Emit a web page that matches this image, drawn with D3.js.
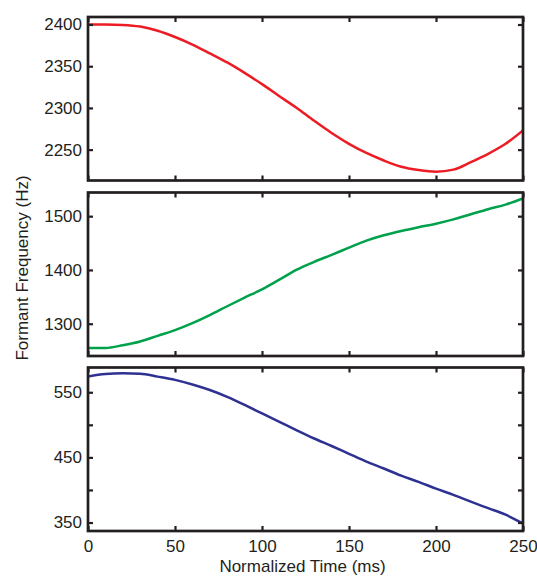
<!DOCTYPE html>
<html>
<head>
<meta charset="utf-8">
<script src="https://cdn.jsdelivr.net/npm/d3@7"></script>
<style>
  html, body { margin: 0; padding: 0; background: #fff; }
  svg text { font-family: "Liberation Sans", Arial, Helvetica, sans-serif; fill: #231f20; }
</style>
</head>
<body>
<svg id="chart" width="537" height="576"></svg>
<script>
// ---- data ----
const timeMs = [0, 10, 20, 30, 40, 50, 60, 70, 80, 90, 100, 110, 120, 130, 140, 150, 160, 170, 180, 190, 200, 210, 220, 230, 240, 250];
const f3Values = [2400, 2400, 2399.5, 2397.5, 2392.5, 2385, 2376, 2365.5, 2354.5, 2342, 2328.5, 2314, 2300, 2284.5, 2270, 2257, 2246, 2237, 2229.5, 2225.5, 2223.5, 2226, 2235, 2245, 2257, 2273];
const f2Values = [1255, 1255, 1260, 1267, 1277.5, 1288, 1301, 1316, 1332.5, 1348.5, 1364, 1382, 1400.5, 1415, 1428, 1441.5, 1454.5, 1464.5, 1472.5, 1479.5, 1486, 1494, 1503.5, 1513, 1521.5, 1533];
const f1Values = [574, 578, 579, 578.5, 574, 569, 562, 553.5, 543, 530.5, 517.5, 504.5, 491.5, 479, 467.5, 455.5, 443.5, 433, 422, 412.5, 402, 392.5, 382, 372, 362, 348.5];
const xTicks = [0, 50, 100, 150, 200, 250];
const f3Ticks = [2250, 2300, 2350, 2400];
const f2Ticks = [1300, 1400, 1500];
const f1Ticks = [350, 400, 450, 500, 550];
const f1Labels = [350, 450, 550];
const xTitle = "Normalized Time (ms)";
const yTitle = "Formant Frequency (Hz)";

// ---- layout ----
const svg = d3.select("#chart");
const left = 88, right = 523;
const panelH = 163.5;
const axisColor = "#231f20";
const panels = [
  { top: 17,    values: f3Values, domain: [2213, 2409], ticks: f3Ticks, labels: f3Ticks, color: "#ed1c24" },
  { top: 192.5, values: f2Values, domain: [1240, 1544], ticks: f2Ticks, labels: f2Ticks, color: "#00a14b" },
  { top: 367.5, values: f1Values, domain: [337, 588],   ticks: f1Ticks, labels: f1Labels, color: "#2e3192" }
];

const x = d3.scaleLinear().domain([0, 250]).range([0, right - left]);

panels.forEach((p, i) => {
  const g = svg.append("g").attr("transform", `translate(${left},${p.top})`);
  const y = d3.scaleLinear().domain(p.domain).range([panelH, 0]);
  const w = right - left;

  const clipId = "clip" + i;
  g.append("clipPath").attr("id", clipId)
    .append("rect").attr("x", 0).attr("y", 0).attr("width", w).attr("height", panelH);

  const line = d3.line().x((d, j) => x(timeMs[j])).y(d => y(d)).curve(d3.curveMonotoneX);
  g.append("path")
    .datum(p.values)
    .attr("clip-path", `url(#${clipId})`)
    .attr("fill", "none")
    .attr("stroke", p.color)
    .attr("stroke-width", 2.5)
    .attr("stroke-linejoin", "round")
    .attr("d", line);

  const isBottom = i === panels.length - 1;

  const styleAxis = sel => {
    sel.select(".domain").remove();
    sel.selectAll(".tick line").attr("stroke", axisColor).attr("stroke-width", 2.2);
    sel.selectAll(".tick text").attr("font-size", 17).style("fill", axisColor);
  };

  // left axis
  g.append("g")
    .call(d3.axisLeft(y).tickValues(p.ticks).tickSizeInner(-5).tickSizeOuter(0).tickPadding(6)
      .tickFormat(d => p.labels.includes(d) ? d3.format("d")(d) : ""))
    .call(styleAxis);
  // right axis
  g.append("g").attr("transform", `translate(${w},0)`)
    .call(d3.axisRight(y).tickValues(p.ticks).tickSizeInner(-5).tickSizeOuter(0).tickFormat(""))
    .call(styleAxis);
  // top axis
  g.append("g")
    .call(d3.axisTop(x).tickValues(xTicks).tickSizeInner(-5).tickSizeOuter(0).tickFormat(""))
    .call(styleAxis);
  // bottom axis
  g.append("g").attr("transform", `translate(0,${panelH})`)
    .call(d3.axisBottom(x).tickValues(xTicks).tickSizeInner(-5).tickSizeOuter(0).tickPadding(9)
      .tickFormat(isBottom ? d3.format("d") : () => ""))
    .call(styleAxis);

  // frame
  g.append("rect")
    .attr("x", 0).attr("y", 0).attr("width", w).attr("height", panelH)
    .attr("fill", "none").attr("stroke", axisColor).attr("stroke-width", 2.7);
});

// axis titles
svg.append("text")
  .attr("x", (left + right) / 2 - 3)
  .attr("y", 572)
  .attr("text-anchor", "middle")
  .attr("font-size", 17)
  .text(xTitle);

svg.append("text")
  .attr("transform", `translate(28,${268}) rotate(-90)`)
  .attr("text-anchor", "middle")
  .attr("font-size", 17)
  .text(yTitle);
</script>
</body>
</html>
